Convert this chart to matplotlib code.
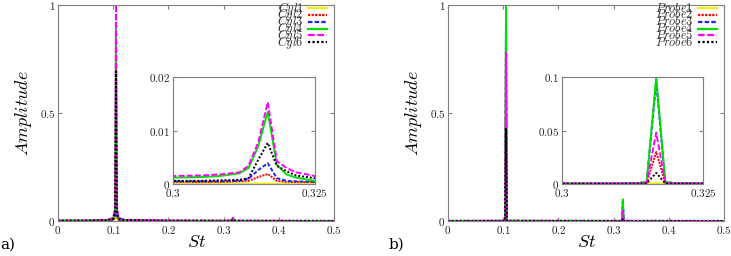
import matplotlib
matplotlib.use("Agg")
import matplotlib.pyplot as plt

plt.rcParams['mathtext.fontset'] = 'cm'
plt.rcParams['font.family'] = 'serif'
plt.rcParams['font.serif'] = ['DejaVu Serif']

# panel a) cylinders
st_a = [0, 0.05, 0.09, 0.1, 0.1033, 0.105, 0.1067, 0.11, 0.12, 0.2, 0.3, 0.305,
        0.3083, 0.3117, 0.3133, 0.315, 0.3167, 0.3183, 0.32, 0.3217, 0.325, 0.4, 0.5]
cyl1 = [0.0005, 0.0005, 0.001, 0.003, 0.01, 0.03, 0.01, 0.003, 0.001, 0.0003, 0.00005, 0.00005,
        0.00005, 0.00005, 0.00005, 0.0001, 0.0001, 0.00005, 0.00005, 0.00005, 0.00005, 0.00005, 0.00005]
cyl2 = [0.001, 0.001, 0.002, 0.005, 0.02, 0.25, 0.02, 0.005, 0.002, 0.001, 0.0004, 0.0004,
        0.0004, 0.0005, 0.0006, 0.0013, 0.0019, 0.0006, 0.0004, 0.0004, 0.0004, 0.0003, 0.0002]
cyl3 = [0.001, 0.001, 0.003, 0.007, 0.025, 0.35, 0.025, 0.007, 0.003, 0.001, 0.0005, 0.0005,
        0.0005, 0.0006, 0.001, 0.0026, 0.0039, 0.0011, 0.0006, 0.0005, 0.0004, 0.0004, 0.0002]
cyl4 = [0.002, 0.002, 0.005, 0.013, 0.05, 0.9, 0.05, 0.013, 0.005, 0.002, 0.0012, 0.0013,
        0.0015, 0.002, 0.003, 0.007, 0.0135, 0.0036, 0.0018, 0.0012, 0.0006, 0.0008, 0.0004]
cyl5 = [0.002, 0.002, 0.006, 0.015, 0.06, 1.0, 0.06, 0.015, 0.006, 0.002, 0.0015, 0.0016,
        0.0018, 0.0022, 0.0034, 0.0077, 0.0153, 0.0043, 0.003, 0.0022, 0.0015, 0.001, 0.0005]
cyl6 = [0.002, 0.002, 0.004, 0.01, 0.04, 0.7, 0.04, 0.01, 0.004, 0.0015, 0.0006, 0.0006,
        0.0007, 0.0008, 0.0011, 0.0045, 0.0077, 0.0034, 0.0024, 0.0016, 0.0011, 0.0006, 0.0003]

# panel b) probes
st_b = [0, 0.1, 0.1033, 0.105, 0.1067, 0.11, 0.3, 0.31, 0.3133, 0.315, 0.3167, 0.3183, 0.32, 0.33, 0.5]
probe1 = [0.0001, 0.0001, 0.0003, 0.005, 0.0003, 0.0001, 0.0001, 0.0001, 0.0001, 0.0002, 0.0008, 0.0002, 0.0001, 0.0001, 0.0001]
probe2 = [0.0004, 0.0006, 0.002, 0.6, 0.002, 0.0006, 0.0004, 0.0004, 0.0005, 0.001, 0.030, 0.001, 0.0005, 0.0004, 0.0002]
probe3 = [0.0005, 0.001, 0.003, 0.93, 0.003, 0.001, 0.0005, 0.0005, 0.0008, 0.002, 0.095, 0.002, 0.0008, 0.0005, 0.0003]
probe4 = [0.0005, 0.001, 0.003, 1.0, 0.003, 0.001, 0.0005, 0.0005, 0.0008, 0.002, 0.100, 0.002, 0.0008, 0.0005, 0.0003]
probe5 = [0.0005, 0.0008, 0.002, 0.78, 0.002, 0.0008, 0.0005, 0.0005, 0.0006, 0.0012, 0.048, 0.0012, 0.0006, 0.0005, 0.0003]
probe6 = [0.0003, 0.0005, 0.001, 0.43, 0.001, 0.0005, 0.0003, 0.0003, 0.0004, 0.0006, 0.0105, 0.0006, 0.0004, 0.0003, 0.0002]

colors = ['#f0f000', '#ff0000', '#2020ff', '#00e000', '#ff00ff', '#000000']
styles = ['-', (0, (1, 0.6)), (0, (2, 1)), '-', (0, (3, 1.2)), (0, (1, 1))]
grey = '#808080'


def style_axes(ax, xt, yt, size=8):
    for s in ax.spines.values():
        s.set_color(grey)
        s.set_linewidth(0.8)
    ax.tick_params(direction='in', top=True, right=True, color=grey, length=3,
                   labelsize=size, pad=2, labelcolor='#222222')
    ax.set_xticks(xt, labels=['$%g$' % v for v in xt])
    ax.set_yticks(yt, labels=['$%g$' % v for v in yt])


def key(ax, names):
    # gnuplot-style key: tightly stacked rows, text left of the sample
    tr = ax.transAxes
    for i, (n, c, ls) in enumerate(zip(names, colors, styles)):
        yk = 0.985 - i * 0.0315
        ax.text(0.889, yk, '$%s$' % n, transform=tr, ha='right', va='center',
                fontsize=9, color='#333333')
        ax.plot([0.905, 0.973], [yk, yk], transform=tr, color=c, ls=ls, lw=1.6,
                clip_on=False)


def panel(rect, inset_rect, st, series, names, ymax_in, yt_in, tag, tagx):
    ax = fig.add_axes(rect)
    for y, c, ls in zip(series, colors, styles):
        ax.plot(st, y, color=c, ls=ls, lw=1.4)
    ax.set_xlim(0, 0.5)
    ax.set_ylim(0, 1)
    style_axes(ax, [0, 0.1, 0.2, 0.3, 0.4, 0.5], [0, 0.5, 1])
    ax.set_xlabel('$St$', fontsize=13, labelpad=-2)
    ax.set_ylabel('$Amplitude$', fontsize=13, labelpad=4)
    key(ax, names)
    ins = fig.add_axes(inset_rect)
    for y, c, ls in zip(series, colors, styles):
        ins.plot(st, y, color=c, ls=ls, lw=1.4)
    ins.set_xlim(0.3, 0.325)
    ins.set_ylim(0, ymax_in)
    style_axes(ins, [0.3, 0.325], yt_in)
    fig.text(tagx, 0.03, tag, fontsize=11, family='serif')


fig = plt.figure(figsize=(7.31, 2.56), dpi=100)

panel([0.0793, 0.1367, 0.378, 0.844], [0.2367, 0.281, 0.194, 0.418], st_a,
      [cyl1, cyl2, cyl3, cyl4, cyl5, cyl6],
      ['Cyl1', 'Cyl2', 'Cyl3', 'Cyl4', 'Cyl5', 'Cyl6'],
      0.02, [0, 0.01, 0.02], 'a)', 0.0)
panel([0.6129, 0.1367, 0.3776, 0.844], [0.7688, 0.281, 0.193, 0.418], st_b,
      [probe1, probe2, probe3, probe4, probe5, probe6],
      ['Probe1', 'Probe2', 'Probe3', 'Probe4', 'Probe5', 'Probe6'],
      0.1, [0, 0.05, 0.1], 'b)', 0.531)

fig.savefig('out.png', dpi=100)
